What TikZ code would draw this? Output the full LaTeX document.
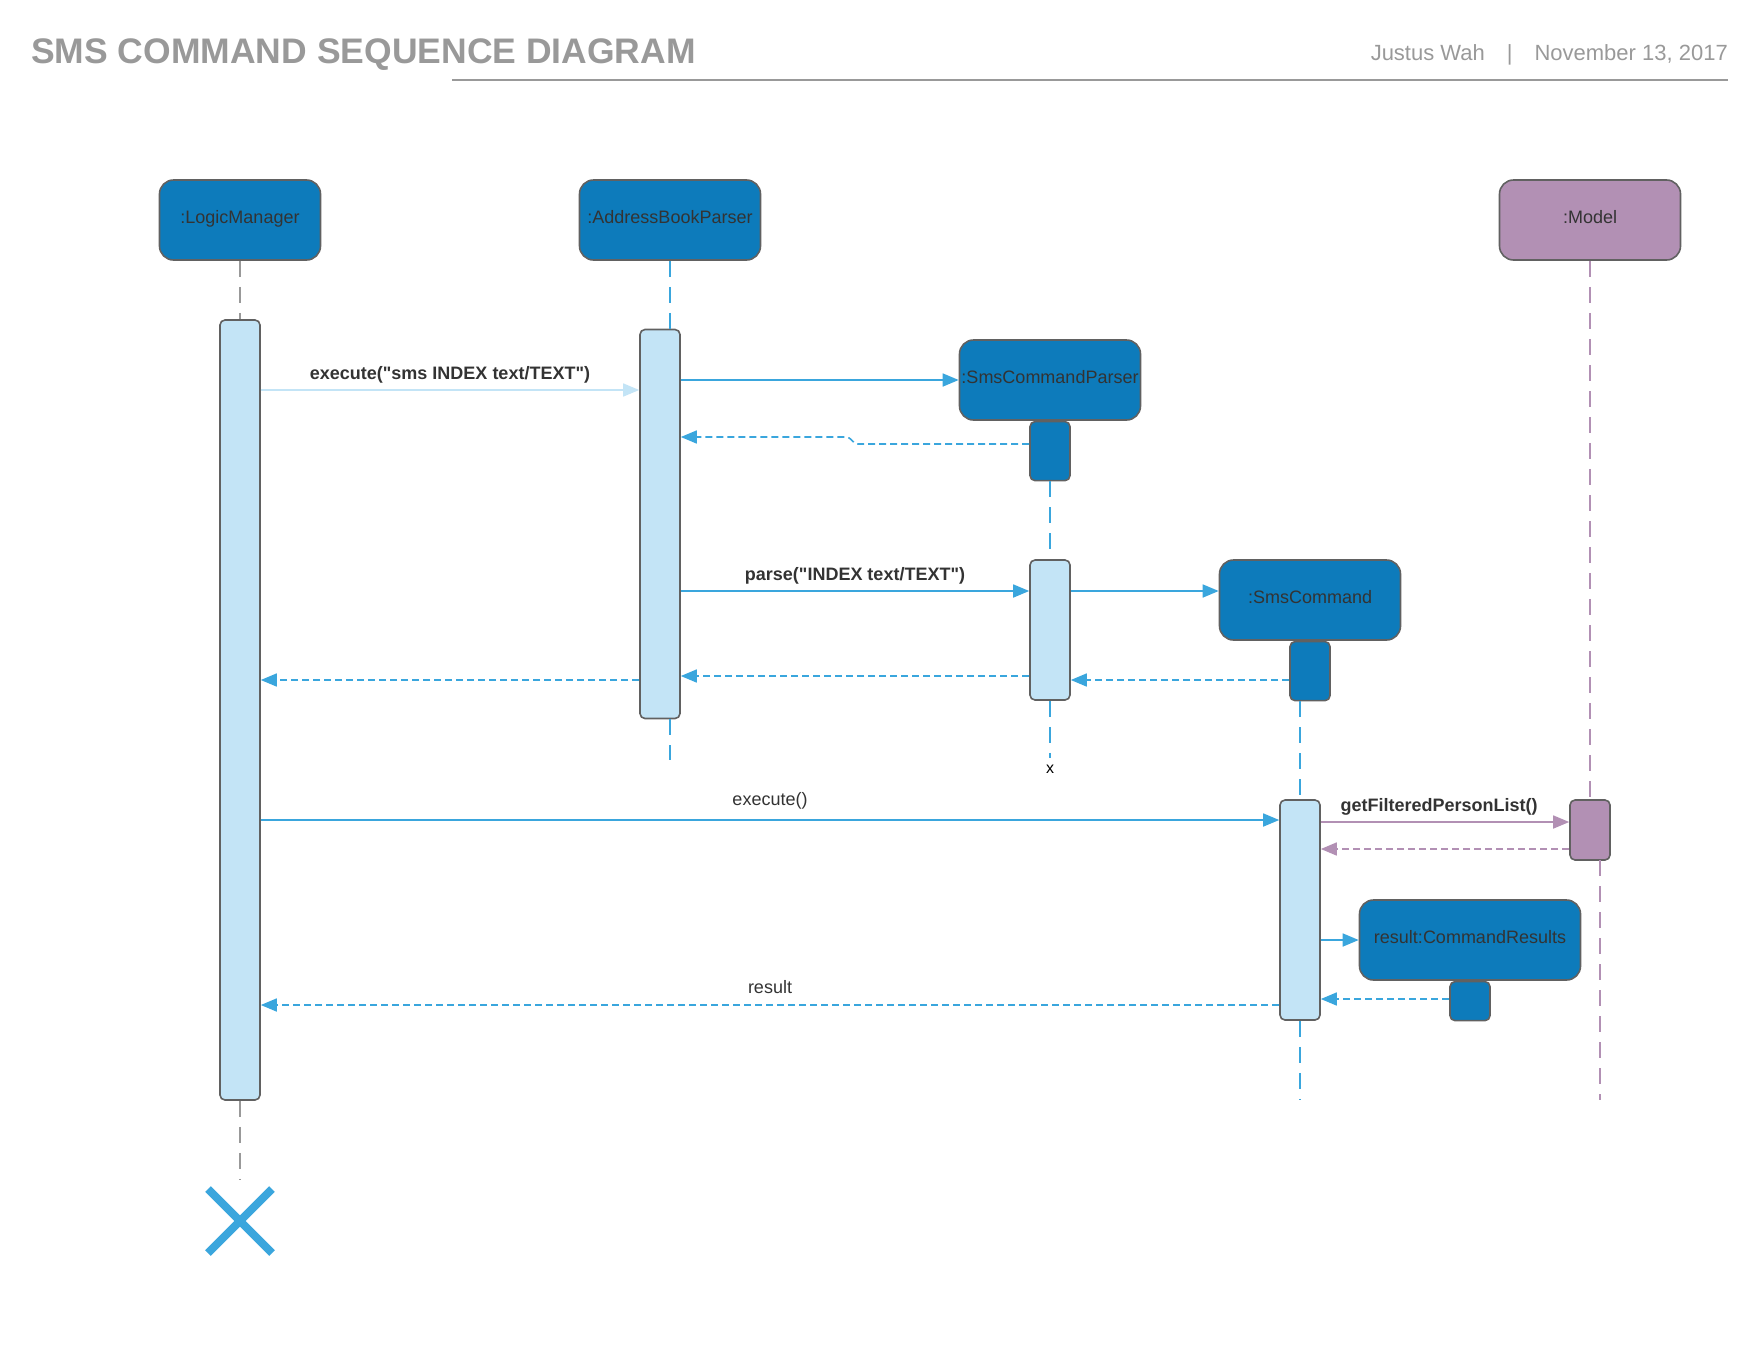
\documentclass[tikz,border=0pt]{standalone}
\usepackage{fontspec}
\setmainfont{Liberation Sans}[Ligatures=TeXOff]
\usetikzlibrary{arrows.meta,shapes.misc}
\definecolor{headblue}{HTML}{0D7BBB}
\definecolor{barblue}{HTML}{C3E4F6}
\definecolor{lineblue}{HTML}{3AA6DD}
\definecolor{mauve}{HTML}{B290B4}
\definecolor{edgegray}{HTML}{616161}
\definecolor{titlegray}{HTML}{999999}
\definecolor{txt}{HTML}{333333}

\begin{document}
\begin{tikzpicture}[x=1pt,y=-1pt,
  objbox/.style={draw=edgegray, line width=1.6pt, fill=headblue, rounded corners=14pt,
    minimum width=#1, minimum height=80pt, inner sep=0pt, text=txt, text height=13pt, text depth=6pt,
    font=\fontsize{18}{20}\selectfont},
  actbar/.style={draw=edgegray, line width=1.6pt, fill=barblue, rounded corners=5pt,
    minimum width=40pt, inner sep=0pt},
  life/.style={lineblue, line width=1.6pt, dash pattern=on 16pt off 10pt},
  call/.style={lineblue, line width=1.6pt, -{Triangle[length=16pt,width=13pt]}},
  reply/.style={call, dash pattern=on 7pt off 4pt},
  lbl/.style={above=3pt, text=txt, font=\bfseries\fontsize{18}{20}\selectfont},
  plainlbl/.style={lbl, above=4pt, font=\fontsize{18}{20}\selectfont},
]
\useasboundingbox (0,0) rectangle (1760,1360);

\node[anchor=base west, inner sep=0pt, text=titlegray, font=\bfseries\fontsize{35.5}{40}\selectfont] (title) at (31,63) {SMS COMMAND SEQUENCE DIAGRAM};
\node[anchor=base east, inner sep=0pt, text=titlegray, font=\fontsize{22}{24}\selectfont] (byline) at (1728,60) {Justus Wah\quad|\quad November 13, 2017};
\coordinate (rulel) at (452,80);
\draw[titlegray, line width=2pt] (rulel) -- (rulel -| byline.east);

\node[objbox=161pt] (lm) at (240,220) {:LogicManager};
\node[objbox=181pt] (abp) at (670,220) {:AddressBookParser};
\node[objbox=181pt, fill=mauve] (model) at (1590,220) {:Model};
\node[objbox=181pt] (scp) at (1050,380) {:SmsCommandParser};
\node[objbox=181pt] (sc) at (1310,600) {:SmsCommand};
\node[objbox=221pt] (res) at (1470,940) {result:CommandResults};

\node[actbar, minimum height=780pt] (lmbar) at (240,710) {};
\node[actbar, minimum height=389pt] (abpbar) at (660,524) {};
\node[actbar, fill=headblue, minimum height=59pt, anchor=north] (scpact) at (scp.south) {};
\node[actbar, minimum height=140pt] (scpbar) at (1050,630) {};
\node[actbar, fill=headblue, minimum height=59pt, anchor=north] (scact) at (sc.south) {};
\node[actbar, minimum height=220pt] (scbar) at (1300,910) {};
\node[actbar, fill=mauve, minimum height=60pt] (modelbar) at (1590,830) {};
\node[actbar, fill=headblue, minimum height=39pt, anchor=north] (resact) at (res.south) {};

\node[cross out, draw=lineblue, line width=8pt, minimum size=56pt, inner sep=0pt] (lmx) at (240,1221) {};
\node[font=\fontsize{16}{18}\selectfont, inner sep=0pt] (scpx) at (1050,769) {x};

\coordinate (lmend) at (240,1180);
\coordinate (abpend) at (670,760);
\coordinate (scpend) at (1050,758);
\coordinate (scend) at (1300,1100);
\coordinate (modelmid) at (1600,860);
\coordinate (modelend) at (1600,1100);

\draw[life, titlegray] (lm.south) -- (lmbar.north);
\draw[life, titlegray] (lmbar.south) -- (lmend);
\draw[life] (abp.south) -- (abp.south |- abpbar.north);
\draw[life] (abp.south |- abpbar.south) -- (abpend);
\draw[life] (scpact.south) -- (scpbar.north);
\draw[life] (scpbar.south) -- (scpend);
\draw[life] (scbar.north |- scact.south) -- (scbar.north);
\draw[life] (scbar.south) -- (scend);
\draw[life, mauve] (model.south) -- (modelbar.north);
\draw[life, mauve] (modelmid) -- (modelend);

\coordinate (r1) at (0,390);
\coordinate (r3) at (0,444);
\coordinate (r3b) at (0,437);
\coordinate (r4) at (0,591);
\coordinate (r6) at (0,680);
\coordinate (r7) at (0,676);
\coordinate (r9) at (0,820);
\coordinate (r10) at (0,822);
\coordinate (r11) at (0,849);
\coordinate (r13) at (0,999);
\coordinate (r14) at (0,1005);

\draw[call, barblue] (lmbar.east |- r1) -- (abpbar.west |- r1) node[lbl, midway] {execute("sms INDEX text/TEXT")};
\draw[call] (abpbar.east |- scp.west) -- (scp.west);
\draw[reply] (scpact.west |- r3) -- (858,444) to[out=180,in=0] (846,437) -- (abpbar.east |- r3b);
\draw[call] (abpbar.east |- r4) -- (scpbar.west |- r4) node[lbl, midway] {parse("INDEX text/TEXT")};
\draw[call] (scpbar.east |- r4) -- (sc.west |- r4);
\draw[reply] (scact.west |- r6) -- (scpbar.east |- r6);
\draw[reply] (scpbar.west |- r7) -- (abpbar.east |- r7);
\draw[reply] (abpbar.west |- r6) -- (lmbar.east |- r6);
\draw[call] (lmbar.east |- r9) -- (scbar.west |- r9) node[plainlbl, midway] {execute()};
\draw[call, mauve] (scbar.east |- r10) -- (modelbar.west |- r10) node[lbl, midway, xshift=-6pt] {getFilteredPersonList()};
\draw[reply, mauve] (modelbar.west |- r11) -- (scbar.east |- r11);
\draw[call] (scbar.east |- res.west) -- (res.west);
\draw[reply] (resact.west |- r13) -- (scbar.east |- r13);
\draw[reply] (scbar.west |- r14) -- (lmbar.east |- r14) node[plainlbl, midway] {result};

\end{tikzpicture}
\end{document}
